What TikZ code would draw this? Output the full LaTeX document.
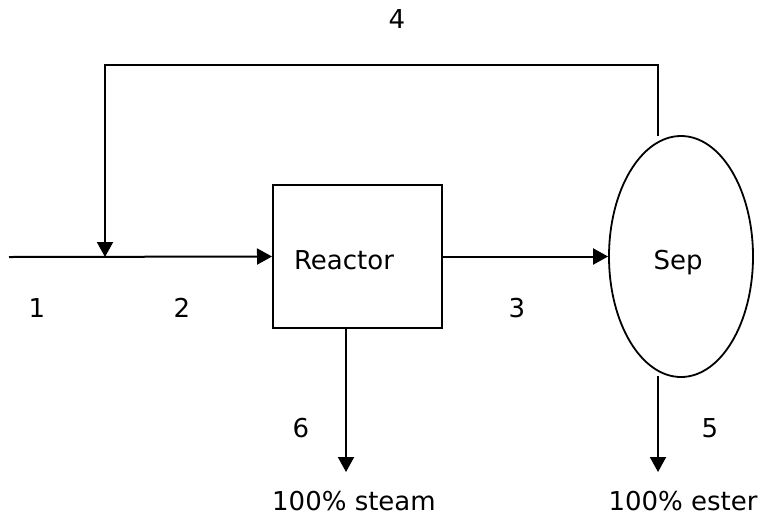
\documentclass[tikz,border=0pt]{standalone}
\usepackage{fontspec}
\setmainfont{DejaVu Sans}
\usetikzlibrary{arrows.meta,shapes.geometric}
\begin{document}
\begin{tikzpicture}[x=1pt,y=-1pt,
  line/.style={line width=2pt,black},
  flow/.style={line,-{Triangle[length=15pt,width=16pt]}},
  txt/.style={font=\fontsize{26}{30}\selectfont,inner sep=0pt,anchor=base},
  unitbox/.style={draw,line width=2pt,rectangle,minimum width=169pt,minimum height=143pt,inner sep=0pt},
  sepshape/.style={draw,line width=1.8pt,ellipse,minimum width=144pt,minimum height=241pt,inner sep=0pt}]
\useasboundingbox (0,0) rectangle (765,515);
% units
\node[unitbox] (reactor) at (357.5,256.5) {};
\node[sepshape] (sep) at (681,256.5) {};
\node[txt] (reactortxt) at (344,269) {Reactor};
\node[txt] (septxt) at (678,269) {Sep};
% coordinates
\coordinate (in1) at (9,257);
\coordinate (mix) at (105,257);
\coordinate (rtop) at (658,136);
\coordinate (r1) at (658,65);
\coordinate (r2) at (105,65);
\coordinate (rbot) at (346,328);
\coordinate (steam) at (346,472);
\coordinate (sbot) at (658,376);
\coordinate (ester) at (658,472);
% connectors
\draw[flow] (in1) -- (reactor.west);
\draw[flow] (reactor.east) -- (sep.west);
\draw[flow] (rtop) -- (r1) -- (r2) -- (mix);
\draw[flow] (rbot) -- (steam);
\draw[flow] (sbot) -- (ester);
% labels
\node[txt] (l1) at (37,317) {1};
\node[txt] (l2) at (182,317) {2};
\node[txt] (l3) at (517,317) {3};
\node[txt] (l4) at (397,28) {4};
\node[txt] (l5) at (710,437) {5};
\node[txt] (l6) at (301,437) {6};
\node[txt] (steamtxt) at (354,510) {100\% steam};
\node[txt] (estertxt) at (683,510) {100\% ester};
\end{tikzpicture}
\end{document}
